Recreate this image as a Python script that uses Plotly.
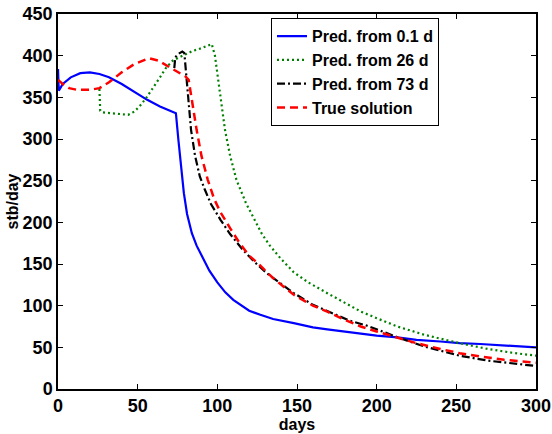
import plotly.graph_objects as go

# Pred. from 0.1 d (blue)
t_blue = [0, 0.5, 3, 8, 14, 20, 26, 32, 40, 48, 56, 64, 70, 74, 75.5, 77, 79, 81, 84, 87, 90, 95, 100,
          105, 110, 115, 120, 127, 135, 148, 160, 169, 180, 190, 200, 213, 225, 240, 252, 265, 280, 290, 300]
q_blue = [384, 358, 366, 374, 379, 380, 378, 374, 366, 356, 347, 339, 334, 331, 300, 270, 235, 210, 187, 172, 160, 142, 128,
          116, 107, 100, 94, 89, 84, 79, 74, 71.6, 69, 66.5, 64, 62, 59, 57, 55, 54, 52, 51.5, 50]

# Pred. from 26 d (green)
t_green = [26, 26.5, 28, 35, 40, 44, 48, 52, 56, 60, 64, 68, 72, 76, 80, 85, 90, 96.5, 98.5, 100.6, 102.5, 104.8,
           108, 112, 118, 124.7, 128, 133, 140, 148, 157, 169, 180, 190, 200, 213, 230, 252, 270, 285, 300]
q_green = [360, 334, 332, 331, 329.5, 329, 333, 341, 351, 362, 374, 386, 394, 398, 402, 406, 409, 414, 400, 371, 340, 311,
           280, 251, 223, 197, 186, 172, 156, 140, 128, 115, 103, 93, 85, 75, 65, 55, 48, 43.5, 40]

# Pred. from 73 d (black)
t_black = [73, 73.6, 75.5, 78, 79.3, 80.8, 83.5, 86, 89, 92, 96, 102, 108, 116, 123, 131, 140, 148, 160, 172,
           183, 194, 205, 214.6, 230, 252, 270, 285, 300]
q_black = [385, 398, 402, 405, 403, 372, 311, 280, 255, 240, 222, 203, 186, 167, 153, 139, 126, 115, 101, 91,
           82, 76, 68, 61, 51, 40, 34, 30.5, 27.6]

# True solution (red)
t_red = [0, 3, 7, 12, 20, 26, 32, 40, 48, 57, 63, 70, 76, 80, 82, 84, 87, 90, 94, 98, 102, 108, 114, 120, 127,
         135, 148, 160, 169, 180, 190, 200, 213, 225, 240, 252, 265, 280, 300]
q_red = [371, 366, 361, 359, 359, 361, 368, 380, 390, 397, 394, 386, 380, 375, 371, 345, 311, 280, 251, 228, 212, 193,
         175, 160, 148, 133, 113, 100, 92.8, 83, 75, 69, 62, 55, 48, 43, 39, 35, 31.6]

x_ticks = [0, 50, 100, 150, 200, 250, 300]
y_ticks = [0, 50, 100, 150, 200, 250, 300, 350, 400, 450]

FONT = "Liberation Sans, Arial, sans-serif"

fig = go.Figure()
fig.add_trace(go.Scatter(x=t_blue, y=q_blue, mode="lines", name="Pred. from 0.1 d",
                         line=dict(color="#0000ff", width=2.2)))
fig.add_trace(go.Scatter(x=t_green, y=q_green, mode="lines", name="Pred. from 26 d",
                         line=dict(color="#008000", width=2.2, dash="2px,3px")))
fig.add_trace(go.Scatter(x=t_black, y=q_black, mode="lines", name="Pred. from 73 d",
                         line=dict(color="#000000", width=2.2, dash="8px,3px,2px,3px")))
fig.add_trace(go.Scatter(x=t_red, y=q_red, mode="lines", name="True solution",
                         line=dict(color="#ff0000", width=2.5, dash="8px,5px")))

axis_common = dict(showgrid=False, zeroline=False, showline=True, linecolor="black", linewidth=1.5,
                   mirror="allticks", ticks="inside", ticklen=5, tickwidth=1, tickcolor="black",
                   automargin=False,
                   tickfont=dict(family=FONT, size=18, color="black", weight="bold"))

fig.update_xaxes(range=[0, 300], tickvals=x_ticks, ticktext=[str(v) for v in x_ticks],
                 title=dict(text="days", font=dict(family=FONT, size=16, color="black", weight="bold"), standoff=0),
                 **axis_common)
fig.update_yaxes(range=[0, 450], tickvals=y_ticks, ticktext=[str(v) for v in y_ticks],
                 title=dict(text="stb/day", font=dict(family=FONT, size=16, color="black", weight="bold"), standoff=0),
                 **axis_common)

fig.update_layout(
    width=552, height=434,
    margin=dict(l=58, r=16, t=14, b=45),
    paper_bgcolor="white", plot_bgcolor="white",
    showlegend=True,
    legend=dict(x=0.4456, y=0.989, xanchor="left", yanchor="top",
                bgcolor="white", bordercolor="black", borderwidth=1,
                font=dict(family=FONT, size=16, color="black", weight="bold"),
                itemwidth=30, tracegroupgap=0),
)

fig.write_html("out.html")
